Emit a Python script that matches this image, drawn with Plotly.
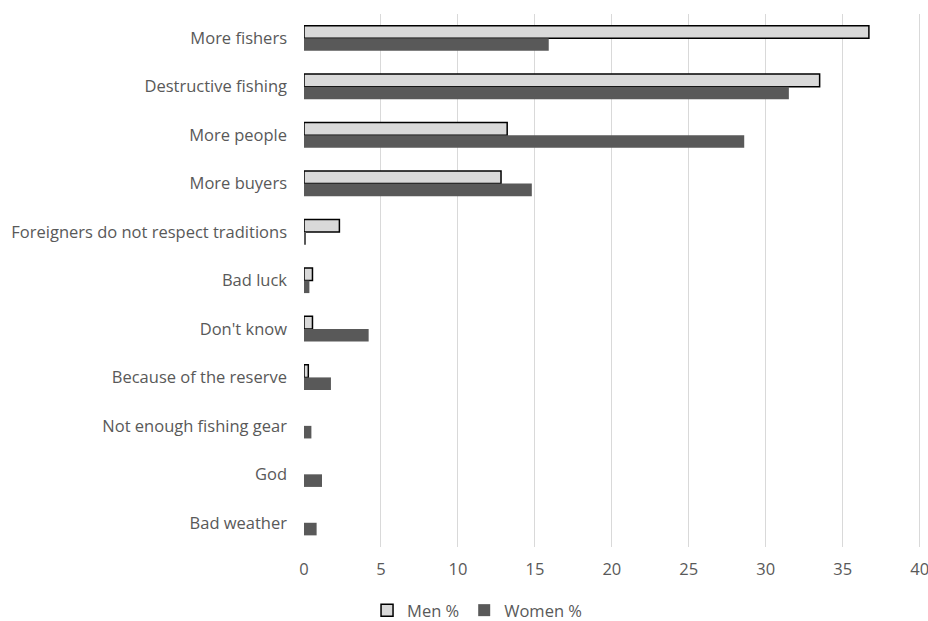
import plotly.graph_objects as go

categories = ["More fishers", "Destructive fishing", "More people", "More buyers",
              "Foreigners do not respect traditions", "Bad luck", "Don't know",
              "Because of the reserve", "Not enough fishing gear", "God", "Bad weather"]
men = [36.7, 33.5, 13.2, 12.8, 2.3, 0.55, 0.55, 0.28, 0, 0, 0]
women = [15.9, 31.5, 28.6, 14.8, 0.1, 0.35, 4.2, 1.75, 0.48, 1.17, 0.82]
x_ticks = [0, 5, 10, 15, 20, 25, 30, 35, 40]

men_line_w = [1.5 if v > 0 else 0 for v in men]

fig = go.Figure()
fig.add_trace(go.Bar(y=categories, x=men, orientation="h", name="Men %",
                     marker=dict(color="#d9d9d9", line=dict(color="#000000", width=men_line_w))))
fig.add_trace(go.Bar(y=categories, x=women, orientation="h", name="Women %",
                     marker=dict(color="#595959", line=dict(color="#595959", width=0))))

font_family = "Open Sans, Noto Sans, sans-serif"
fs = 16.5
fig.update_layout(
    width=928, height=621,
    margin=dict(l=304, r=6, t=14, b=74, autoexpand=False),
    barmode="group", bargap=0.48, bargroupgap=0,
    plot_bgcolor="white", paper_bgcolor="white",
    font=dict(family=font_family, color="#595959", size=fs),
    xaxis=dict(range=[0, 40.15], tickvals=x_ticks, showgrid=True, gridcolor="#d9d9d9",
               gridwidth=1, zeroline=False, showline=False, ticks="",
               ticklabeloverflow="allow",
               tickfont=dict(size=fs, color="#595959"), ticklabelstandoff=10),
    yaxis=dict(autorange="reversed", showgrid=False, showline=False, ticks="",
               tickfont=dict(size=fs, color="#595959"), ticklabelstandoff=16),
    legend=dict(orientation="h", x=0.28, xanchor="center", y=-0.119, yanchor="middle",
                font=dict(size=fs, color="#595959"), traceorder="normal",
                itemwidth=30, tracegroupgap=0),
)
fig.write_html("out.html")
